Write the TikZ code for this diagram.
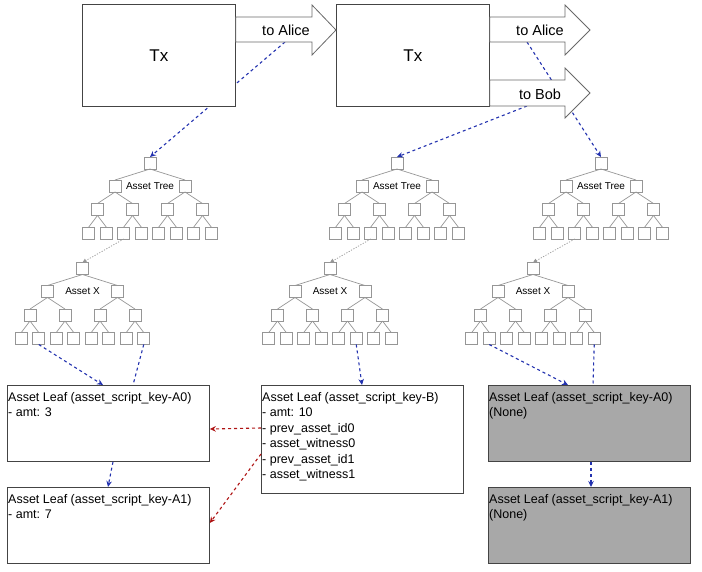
\documentclass[tikz,border=0pt]{standalone}
\usepackage{fontspec}
\setmainfont{Liberation Sans}
\usetikzlibrary{arrows.meta}
\definecolor{bluearr}{RGB}{35,50,175}
\definecolor{redarr}{RGB}{175,20,20}
\definecolor{boxgray}{RGB}{168,168,168}
\definecolor{edgegray}{RGB}{68,68,68}
\definecolor{treegray}{RGB}{150,150,150}
\tikzset{
  tb/.style={draw=treegray,fill=white,line width=0.7pt,minimum width=12,minimum height=12,inner sep=0,outer sep=0},
  tl/.style={draw=treegray,line width=0.7pt},
  tlab/.style={font=\fontsize{10}{12}\selectfont,inner sep=1pt},
  txbox/.style={draw=edgegray,fill=white,line width=0.8pt,minimum width=153,minimum height=102,inner sep=0,anchor=north west,font=\fontsize{17}{20}\selectfont},
  outarrow/.style={draw=edgegray!80,fill=white,line width=0.8pt},
  arrlab/.style={font=\fontsize{14.5}{17}\selectfont,inner sep=0},
  leafbox/.style={draw=edgegray,fill=white,line width=0.8pt,minimum width=202,inner sep=0,anchor=north west},
  leaftext/.style={font=\fontsize{12.5}{15.4}\selectfont,align=left,inner sep=0,anchor=north west},
  bluedash/.style={draw=bluearr,line width=1.1pt,dash pattern=on 3pt off 3pt},
  bluehead/.style={-{Stealth[length=6pt,width=5.5pt]}},
  reddash/.style={draw=redarr,line width=1.1pt,dash pattern=on 3pt off 3pt,-{Stealth[length=6pt,width=5.5pt]}},
  greydot/.style={draw=treegray,line width=0.7pt,dash pattern=on 1.2pt off 1.5pt,-{Triangle[length=4pt,width=4pt]}}
}
\newcommand\mytree[4]{%
  \node[tb] (#1) at (#2,#3) {};
  \node[tlab] (#1-lab) at (#2,#3+23) {#4};
  \foreach \i/\dx in {1/-35,2/35} {
    \node[tb] (#1-\i) at ({#2+(\dx)},#3+23) {};
    \draw[tl] (#1.south) -- (#1-\i.north);
    \foreach \j/\ex in {1/-17.5,2/17.5} {
      \node[tb] (#1-\i\j) at ({#2+(\dx)+(\ex)},#3+46.5) {};
      \draw[tl] (#1-\i.south) -- (#1-\i\j.north);
      \foreach \k/\fx in {1/-8.75,2/8.75} {
        \node[tb] (#1-\i\j\k) at ({#2+(\dx)+(\ex)+(\fx)},#3+70) {};
        \draw[tl] (#1-\i\j.south) -- (#1-\i\j\k.north);
      }
    }
  }
}
\begin{document}
\begin{tikzpicture}[x=1pt,y=-1pt]
\useasboundingbox (0,0) rectangle (702,571);

% trees
\mytree{ta}{150}{163}{Asset Tree}
\mytree{xa}{82.5}{268.5}{Asset X}
\mytree{tb}{397}{163}{Asset Tree}
\mytree{xb}{330}{268.5}{Asset X}
\mytree{tc}{601}{163}{Asset Tree}
\mytree{xc}{533}{268.5}{Asset X}
\draw[greydot] (ta-121.south) -- (xa.north);
\draw[greydot] (tb-121.south) -- (xb.north);
\draw[greydot] (tc-121.south) -- (xc.north);

% coordinates on the output arrows
\coordinate (a1) at (285,42);
\coordinate (a2) at (527,42);
\coordinate (b2) at (527,106);

% blue dashed connectors from tx outputs (drawn below the boxes)
\draw[bluedash,bluehead] (a1) -- (ta.north);
\draw[bluedash,bluehead] (a2) -- (tc.north);
\draw[bluedash,bluehead] (b2) -- (tb.north);

% Tx boxes and output arrows
\node[txbox] (tx1) at (82,4) {Tx};
\node[txbox] (tx2) at (336,4) {Tx};
\path[outarrow] (tx1.east |- 0,17) -- (312,17) -- (312,5) -- (336,30) -- (312,55) -- (312,42) -- (tx1.east |- 0,42) -- cycle;
\node[arrlab] (l1) at (286,30) {to Alice};
\path[outarrow] (tx2.east |- 0,17) -- (565,17) -- (565,5) -- (590,30) -- (565,55) -- (565,42) -- (tx2.east |- 0,42) -- cycle;
\node[arrlab] (l2) at (540,30) {to Alice};
\path[outarrow] (tx2.east |- 0,80) -- (565,80) -- (565,68) -- (590,93) -- (565,118) -- (565,106) -- (tx2.east |- 0,106) -- cycle;
\node[arrlab] (l3) at (540,94) {to Bob};

% leaf boxes
\node[leafbox,minimum height=76] (A0) at (7,385) {};
\node[leaftext] (A0t) at (8,392.3) {Asset Leaf (asset\_script\_key-A0)\\- amt: 3};
\node[leafbox,minimum height=76] (A1) at (7,487) {};
\node[leaftext] (A1t) at (8,494.3) {Asset Leaf (asset\_script\_key-A1)\\- amt: 7};
\node[leafbox,minimum height=108] (B) at (261,385) {};
\node[leaftext] (Bt) at (262,392.3) {Asset Leaf (asset\_script\_key-B)\\- amt: 10\\- prev\_asset\_id0\\- asset\_witness0\\- prev\_asset\_id1\\- asset\_witness1};
\node[leafbox,fill=boxgray,minimum height=76] (C0) at (488,385) {};
\node[leaftext] (C0t) at (489,392.3) {Asset Leaf (asset\_script\_key-A0)\\(None)};
\node[leafbox,fill=boxgray,minimum height=76] (C1) at (488,487) {};
\node[leaftext] (C1t) at (489,494.3) {Asset Leaf (asset\_script\_key-A1)\\(None)};

% blue connectors from asset X trees to leaves
\coordinate (A0in) at (103,385);
\coordinate (A0in2) at (133,385);
\coordinate (Bin) at (362,385);
\coordinate (C0in) at (568,385);
\coordinate (C0in2) at (593,385);
\draw[bluedash,bluehead] (xa-112.south) -- (A0in);
\draw[bluedash] (xa-222.south) -- (A0in2);
\draw[bluedash,bluehead] (xb-212.south) -- (Bin);
\draw[bluedash,bluehead] (xc-112.south) -- (C0in);
\draw[bluedash] (xc-222.south) -- (C0in2);
\draw[bluedash,bluehead] (A0.south -| 113,0) -- (A1.north -| 108,0);
\draw[bluedash,bluehead] (C0.south -| 591,0) -- (C1.north -| 591,0);

% red connectors
\draw[reddash] (B.west |- 0,428) -- (A0.east |- 0,429);
\draw[reddash] (B.west |- 0,454) -- (A1.east |- 0,523);
\end{tikzpicture}
\end{document}
